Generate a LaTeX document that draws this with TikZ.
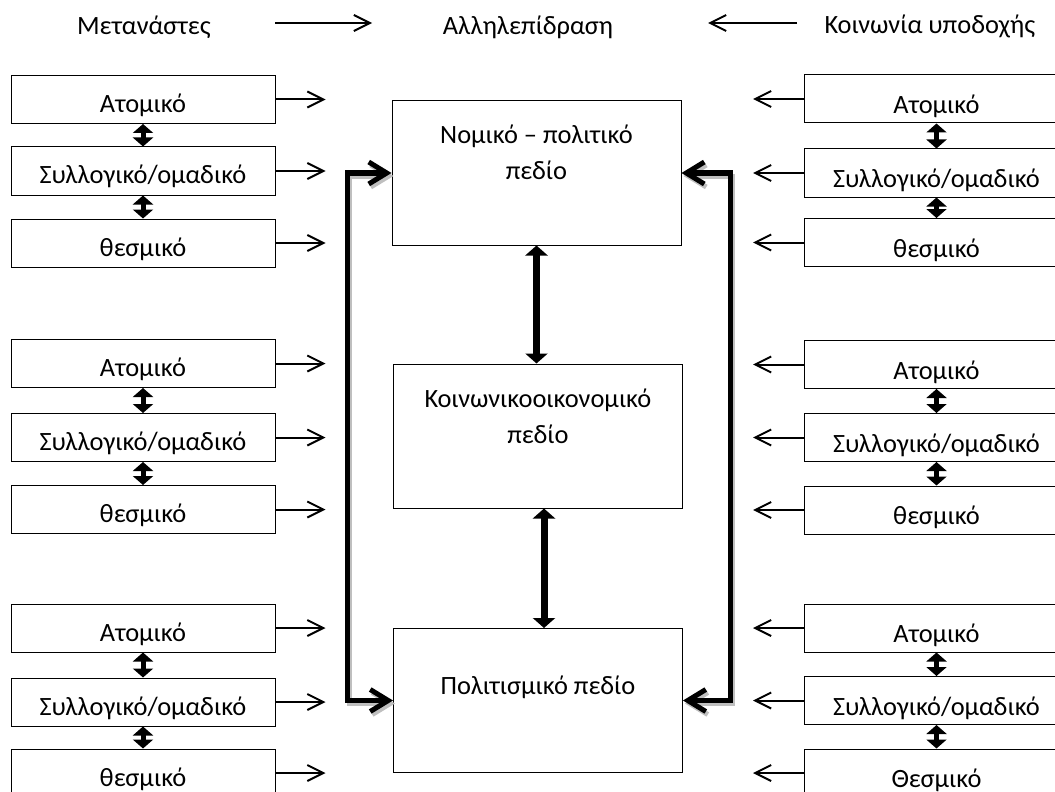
\documentclass[tikz,border=0pt]{standalone}
\usepackage{fontspec}
\setmainfont{Carlito}
\usetikzlibrary{arrows.meta}

\tikzset{
  tier/.style={draw, line width=0.5pt, minimum width=132pt, minimum height=24pt, inner sep=0pt, text height=13pt, text depth=0pt},
  rtier/.style={tier, text height=14.5pt},
  field/.style={draw, line width=0.5pt, minimum width=144.5pt, minimum height=72pt},
  fieldtext/.style={align=center, font=\fontsize{13.2}{18}\selectfont},
  thin arrow/.style={line width=1pt, -{Straight Barb[length=8pt,width=8pt]}},
  small link/.style={line width=2.5pt, {Triangle[width=10pt,length=4.5pt]}-{Triangle[width=10pt,length=4.5pt]}},
  big link/.style={line width=3.5pt, {Triangle[width=11pt,length=5pt]}-{Triangle[width=11pt,length=5pt]}},
  feedback/.style={line width=2.5pt, {Straight Barb[length=9pt,width=11pt]}-{Straight Barb[length=9pt,width=11pt]}},
}

\begin{document}
\begin{tikzpicture}[x=0.5pt, y=-0.5pt, font=\fontsize{13.2}{16}\selectfont]
\useasboundingbox (0,0) rectangle (1055,792);

% headings
\node (mig) [anchor=base] at (144,35) {Μετανάστες};
\node (inter) [anchor=base] at (528,35) {Αλληλεπίδραση};
\node (host) [anchor=base] at (930,34) {Κοινωνία υποδοχής};
\coordinate (migtail) at (275,23);
\coordinate (migtip) at (372,23);
\coordinate (hosttail) at (797,23);
\coordinate (hosttip) at (708,23);
\draw [thin arrow] (migtail) -- (migtip);
\draw [thin arrow] (hosttail) -- (hosttip);

% the three fields
\node [field] (legal) at (536.5,173) {};
\node [field] (socio) at (538,436) {};
\node [field] (culture) at (538,700.5) {};
\node [fieldtext] (legaltext) at (536.5,152) {Νομικό – πολιτικό\\πεδίο};
\node [fieldtext] (sociotext) at (538,416) {Κοινωνικοοικονομικό\\πεδίο};
\node [anchor=base] (culturetext) at (538,694) {Πολιτισμικό πεδίο};

\draw [big link] (legal.south) -- (legal.south |- socio.north);
\draw [big link] ([xshift=3pt]socio.south) -- ([xshift=3pt]socio.south |- culture.north);

% feedback loops
\coordinate (lside) at (347,436);
\coordinate (rside) at (730,436);
\begin{scope}[transform canvas={shift={(1pt,-1.5pt)}}]
\draw [feedback, black!25] (legal.west) -- (legal.west -| lside) |- (culture.west);
\draw [feedback, black!25] (legal.east) -- (legal.east -| rside) |- (culture.east);
\end{scope}
\draw [feedback] (legal.west) -- (legal.west -| lside) |- (culture.west);
\draw [feedback] (legal.east) -- (legal.east -| rside) |- (culture.east);

% migrants
\node [tier] (lind1) at (143,99.5) {Ατομικό};
\node [tier] (lcol1) at (143,171) {Συλλογικό/ομαδικό};
\node [tier] (linst1) at (143,243) {θεσμικό};
\node [tier] (lind2) at (143,363.5) {Ατομικό};
\node [tier] (lcol2) at (143,437.5) {Συλλογικό/ομαδικό};
\node [tier] (linst2) at (143,509.5) {θεσμικό};
\node [tier] (lind3) at (143,628) {Ατομικό};
\node [tier] (lcol3) at (143,702) {Συλλογικό/ομαδικό};
\node [tier] (linst3) at (143,773) {θεσμικό};

\draw [small link] (lind1) -- (lcol1);
\draw [small link] (lcol1) -- (linst1);
\draw [small link] (lind2) -- (lcol2);
\draw [small link] (lcol2) -- (linst2);
\draw [small link] (lind3) -- (lcol3);
\draw [small link] (lcol3) -- (linst3);

\draw [thin arrow] (lind1.east) -- ++(50,0);
\draw [thin arrow] (lcol1.east) -- ++(50,0);
\draw [thin arrow] (linst1.east) -- ++(50,0);
\draw [thin arrow] (lind2.east) -- ++(50,0);
\draw [thin arrow] (lcol2.east) -- ++(50,0);
\draw [thin arrow] (linst2.east) -- ++(50,0);
\draw [thin arrow] (lind3.east) -- ++(50,0);
\draw [thin arrow] (lcol3.east) -- ++(50,0);
\draw [thin arrow] (linst3.east) -- ++(50,0);

% host society
\node [rtier] (rind1) at (936.5,99) {Ατομικό};
\node [rtier] (rcol1) at (936.5,173) {Συλλογικό/ομαδικό};
\node [rtier] (rinst1) at (936.5,242.5) {θεσμικό};
\node [rtier] (rind2) at (936.5,364.5) {Ατομικό};
\node [rtier] (rcol2) at (936.5,437.5) {Συλλογικό/ομαδικό};
\node [rtier] (rinst2) at (936.5,510) {θεσμικό};
\node [rtier] (rind3) at (936.5,628) {Ατομικό};
\node [rtier] (rcol3) at (936.5,700.5) {Συλλογικό/ομαδικό};
\node [rtier] (rinst3) at (936.5,773) {Θεσμικό};

\draw [small link] (rind1) -- (rcol1);
\draw [small link] (rcol1) -- (rinst1);
\draw [small link] (rind2) -- (rcol2);
\draw [small link] (rcol2) -- (rinst2);
\draw [small link] (rind3) -- (rcol3);
\draw [small link] (rcol3) -- (rinst3);

\draw [thin arrow] (rind1.west) -- ++(-51,0);
\draw [thin arrow] (rcol1.west) -- ++(-51,0);
\draw [thin arrow] (rinst1.west) -- ++(-51,0);
\draw [thin arrow] (rind2.west) -- ++(-51,0);
\draw [thin arrow] (rcol2.west) -- ++(-51,0);
\draw [thin arrow] (rinst2.west) -- ++(-51,0);
\draw [thin arrow] (rind3.west) -- ++(-51,0);
\draw [thin arrow] (rcol3.west) -- ++(-51,0);
\draw [thin arrow] (rinst3.west) -- ++(-51,0);

\end{tikzpicture}
\end{document}
